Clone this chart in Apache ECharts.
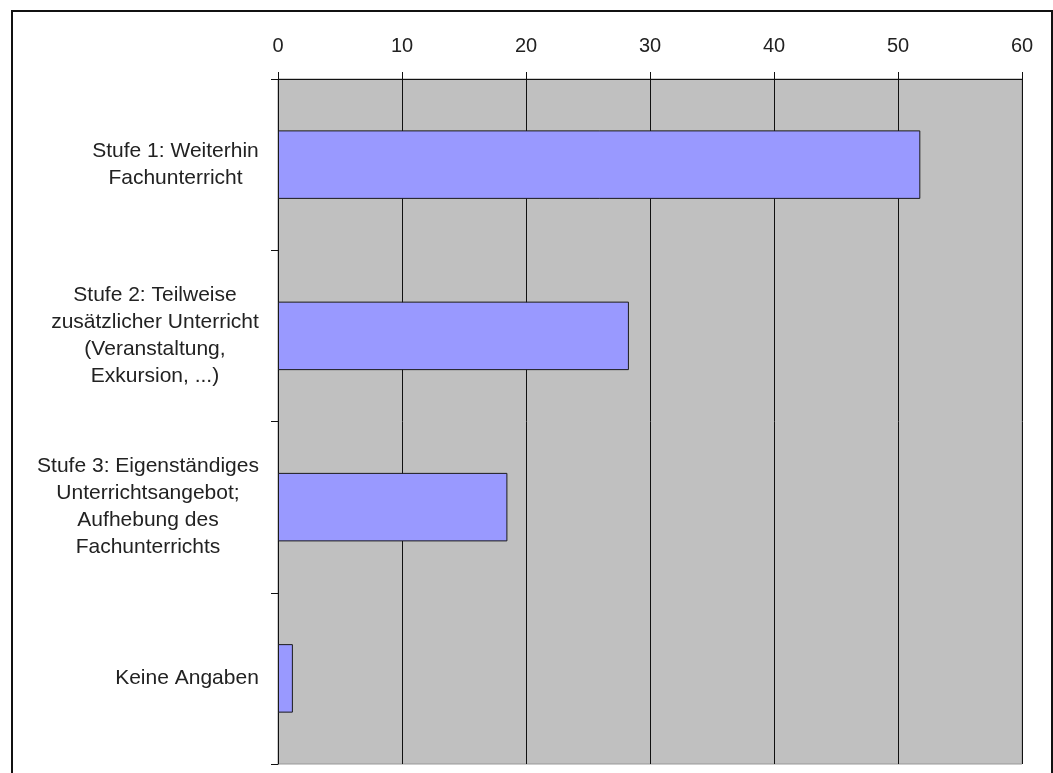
<!DOCTYPE html>
<html>
<head>
<meta charset="utf-8">
<script src="https://cdn.jsdelivr.net/npm/echarts@6/dist/echarts.min.js"></script>
<style>
html,body{margin:0;padding:0;background:#fff;}
#wrap{position:relative;width:1053px;height:773px;overflow:hidden;}
#chart{position:absolute;left:0;top:0;width:1053px;height:773px;}
#frame{position:absolute;left:11px;top:10px;width:1042px;height:800px;border:2px solid #111;box-sizing:border-box;pointer-events:none;}
</style>
</head>
<body>
<div id="wrap"><div id="frame"></div><div id="chart"></div></div>
<script>
// Data
const categories = [
  ['Stufe 1: Weiterhin', 'Fachunterricht'],
  ['Stufe 2: Teilweise', 'zusätzlicher Unterricht', '(Veranstaltung,', 'Exkursion, ...)'],
  ['Stufe 3: Eigenständiges', 'Unterrichtsangebot;', 'Aufhebung des', 'Fachunterrichts'],
  ['Keine Angaben']
];
const values = [51.8, 28.3, 18.5, 1.2];
const xTicks = [0, 10, 20, 30, 40, 50, 60];

const labelFont = '21px "Liberation Sans", Arial, sans-serif';
const ctx = document.createElement('canvas').getContext('2d');
ctx.font = labelFont;
const rich = {};
categories.forEach((lines, i) => {
  const w = Math.max(...lines.map(l => ctx.measureText(l).width));
  rich['c' + i] = {
    width: Math.ceil(w),
    align: 'center',
    fontSize: 21,
    fontFamily: '"Liberation Sans", Arial, sans-serif',
    color: '#222',
    lineHeight: 27
  };
});
const catNames = categories.map(l => l.join(' '));

const chart = echarts.init(document.getElementById('chart'), null, {renderer: 'canvas'});
chart.setOption({
  animation: false,
  backgroundColor: 'transparent',
  grid: {
    left: 278, right: 31, top: 79, bottom: 9,
    show: true, backgroundColor: '#c0c0c0', borderColor: '#999', borderWidth: 1
  },
  xAxis: {
    type: 'value',
    position: 'top',
    min: xTicks[0], max: xTicks[xTicks.length - 1], interval: 10,
    axisLine: {show: true, lineStyle: {color: '#111', width: 1}},
    axisTick: {show: true, length: 7, lineStyle: {color: '#111'}},
    splitLine: {show: true, lineStyle: {color: '#111', width: 1}},
    axisLabel: {
      margin: 23, fontSize: 20, color: '#222',
      fontFamily: '"Liberation Sans", Arial, sans-serif'
    }
  },
  yAxis: {
    type: 'category',
    inverse: true,
    data: catNames,
    axisLine: {show: true, lineStyle: {color: '#111', width: 1}},
    axisTick: {show: true, length: 7, lineStyle: {color: '#111'}},
    splitLine: {show: false},
    axisLabel: {
      margin: 19,
      align: 'right',
      formatter: (v, idx) => categories[idx].map(l => '{c' + idx + '|' + l + '}').join('\n'),
      rich: rich
    }
  },
  series: [{
    type: 'bar',
    data: values,
    barWidth: '40%',
    itemStyle: {color: '#9999ff', borderColor: '#1a1a1a', borderWidth: 1}
  }]
});
</script>
</body>
</html>
